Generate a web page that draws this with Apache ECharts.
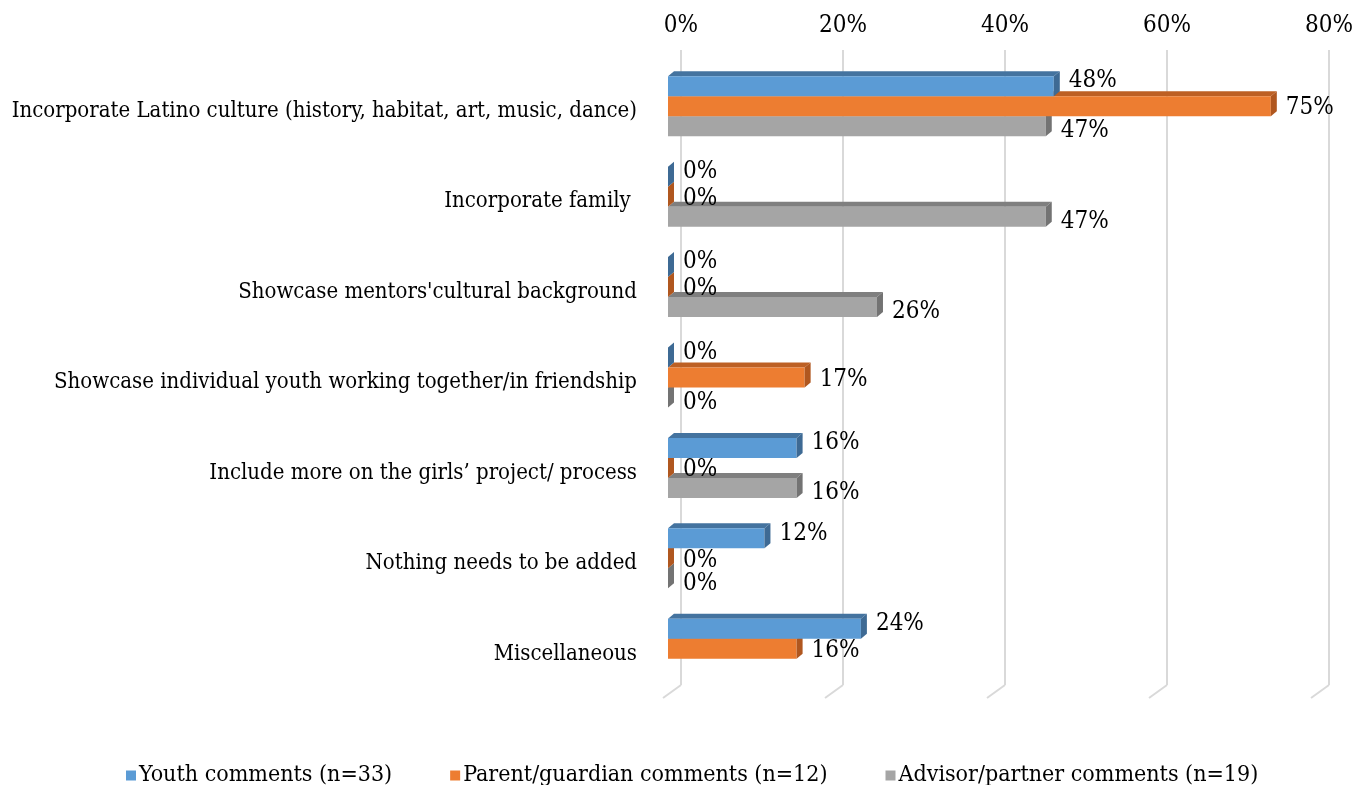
<!DOCTYPE html>
<html>
<head>
<meta charset="utf-8">
<script src="https://cdn.jsdelivr.net/npm/echarts@6/dist/echarts.min.js"></script>
<style>
  html, body { margin: 0; padding: 0; background: #fff; }
  #main { width: 1356px; height: 785px; }
</style>
</head>
<body>
<div id="main"></div>
<script>
// data
var categories = [
  'Incorporate Latino culture (history, habitat, art, music, dance)',
  'Incorporate family ',
  "Showcase mentors'cultural background",
  'Showcase individual youth working together/in friendship',
  'Include more on the girls\u2019 project/ process',
  'Nothing needs to be added',
  'Miscellaneous'
];
var youth   = [48, 0, 0, 0, 16, 12, 24];
var parent  = [75, 0, 0, 17, 0, 0, 16];
var advisor = [47, 47, 26, 0, 16, 0, null];
var tickValues = [0, 20, 40, 60, 80];

var seriesNames = ['Youth comments (n=33)', 'Parent/guardian comments (n=12)', 'Advisor/partner comments (n=19)'];
var FONT = '"DejaVu Serif Condensed", "Liberation Serif", serif';

// front, top and side colours of each bar set
var palette = [
  { front: '#5B9BD5', top: '#44739f', side: '#3e6a94' },
  { front: '#ED7D31', top: '#bd6024', side: '#b0571f' },
  { front: '#A5A5A5', top: '#7f7f7f', side: '#737373' }
];
var labelShift = [-5, 2, 5];
var DX = 6, DY = 5, BAR_H = 20;

function barRenderer(slot) {
  return function (params, api) {
    var v = api.value(0);
    if (v == null || isNaN(v)) return;
    var c = api.value(1);
    var p0 = api.coord([0, c]);
    var p1 = api.coord([v, c]);
    var yTop = p0[1] - BAR_H * 1.5 + BAR_H * slot;
    var yBot = yTop + BAR_H;
    var x0 = p0[0], x1 = p1[0];
    var col = palette[slot];
    return {
      type: 'group',
      children: [
        { type: 'polygon', shape: { points: [[x0, yTop], [x0 + DX, yTop - DY], [x1 + DX, yTop - DY], [x1, yTop]] },
          style: { fill: col.top } },
        { type: 'rect', shape: { x: x0, y: yTop, width: x1 - x0, height: BAR_H },
          style: { fill: col.front } },
        { type: 'polygon', shape: { points: [[x1, yTop], [x1 + DX, yTop - DY], [x1 + DX, yBot - DY], [x1, yBot]] },
          style: { fill: col.side } },
        { type: 'text', x: x1 + DX + 9, y: (yTop + yBot) / 2 + labelShift[slot],
          style: { text: v + '%', fill: '#000', font: '24px ' + FONT, align: 'left', verticalAlign: 'middle' } }
      ]
    };
  };
}

function makeBars(values, slot) {
  return {
    name: seriesNames[slot],
    type: 'custom',
    xAxisIndex: 1,
    yAxisIndex: 1,
    z: 5 - slot,
    itemStyle: { color: palette[slot].front },
    encode: { x: 0, y: 1 },
    data: values.map(function (v, i) { return [v, i]; }),
    renderItem: barRenderer(slot)
  };
}

var chart = echarts.init(document.getElementById('main'));
chart.setOption({
  animation: false,
  textStyle: { fontFamily: FONT },
  grid: [
    { left: 681, width: 648, top: 50, height: 635 },
    { left: 668, width: 643, top: 61, height: 633 }
  ],
  xAxis: [
    {
      gridIndex: 0, type: 'value', position: 'top', min: 0, max: 80, interval: 20,
      axisLine: { show: false }, axisTick: { show: false },
      axisLabel: { formatter: '{value}%', fontSize: 24, color: '#000', margin: 12, fontFamily: FONT },
      splitLine: { lineStyle: { color: '#d9d9d9', width: 2 } }
    },
    { gridIndex: 1, type: 'value', min: 0, max: 80, show: false }
  ],
  yAxis: [
    { gridIndex: 0, type: 'value', min: 0, max: 1, show: false },
    {
      gridIndex: 1, type: 'category', inverse: true, data: categories,
      axisLine: { show: false }, axisTick: { show: false },
      axisLabel: {
        margin: 31,
        formatter: function (v) { return '{c|' + v + '}'; },
        rich: { c: { fontSize: 22, color: '#000', fontFamily: FONT, padding: [10, 0, 0, 0] } }
      }
    }
  ],
  legend: {
    data: seriesNames,
    left: 121, top: 759,
    icon: 'rect', itemWidth: 10, itemHeight: 10, itemGap: 58,
    textStyle: { fontSize: 23, color: '#000', fontFamily: FONT, padding: [0, 0, 0, -2] }
  },
  series: [
    {
      name: 'floor', type: 'custom', xAxisIndex: 0, yAxisIndex: 0, silent: true, z: 1,
      data: tickValues.map(function (t) { return [t, 0]; }),
      renderItem: function (params, api) {
        var p = api.coord([api.value(0), 0]);
        return { type: 'line', shape: { x1: p[0], y1: p[1], x2: p[0] - 18, y2: p[1] + 13 },
          style: { stroke: '#d9d9d9', lineWidth: 2 } };
      }
    },
    makeBars(advisor, 2),
    makeBars(parent, 1),
    makeBars(youth, 0)
  ]
});
</script>
</body>
</html>
